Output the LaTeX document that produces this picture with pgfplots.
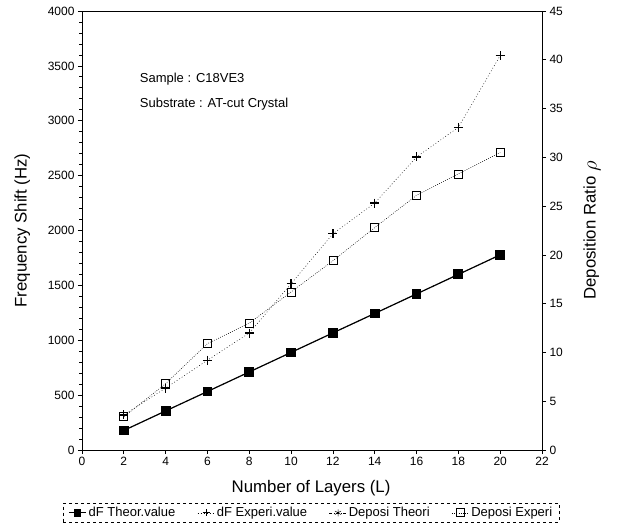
\documentclass[border=0pt]{standalone}
\usepackage{fontspec}
\setmainfont{Liberation Sans}
\usepackage{pgfplots}
\pgfplotsset{compat=1.18}

% frequency shift (left axis) and deposition ratio (right axis) vs. number of layers
\pgfplotstableread{
L  dFtheo dFexp
2  178    320
4  356    564
6  533    818
8  711    1066
10 889    1515
12 1067   1970
14 1244   2250
16 1422   2670
18 1600   2940
20 1778   3594
}\freqdata

\pgfplotstableread{
L  rhotheo rhoexp
2  2       3.4
4  4       6.8
6  6       10.9
8  8       13.0
10 10      16.2
12 12      19.4
14 14      22.8
16 16      26.1
18 18      28.3
20 20      30.5
}\ratiodata

\pgfplotsset{
  common/.style={
    scale only axis, width=460pt, height=439pt,
    xmin=0, xmax=22, xtick={0,2,...,22},
    tick align=outside,
    /pgf/number format/assume math mode=true,
    tick label style={font=\fontsize{12}{14}\selectfont},
    label style={font=\fontsize{16.8}{20}\selectfont},
    axis line style={line width=0.9pt},
    major tick length=4pt, minor tick length=2.5pt,
    every tick/.style={line width=0.7pt},
  }
}

\begin{document}
\begin{tikzpicture}
\begin{axis}[common,
  axis y line*=left, axis x line*=bottom,
  ymin=0, ymax=4000, ytick={0,500,...,4000},
  minor y tick num=4,
  /pgf/number format/1000 sep={},
  xlabel={Number of Layers (L)},
  ylabel={Frequency Shift (Hz)},
  ylabel style={at={(axis description cs:-0.130,0.5)}, anchor=center},
  xlabel style={at={(axis description cs:0.498,-0.087)}, anchor=center},
]
\addplot[black, line width=1.2pt, mark=square*, mark size=4.3pt] table[x=L, y=dFtheo] {\freqdata};
\addplot[black, line width=0.5pt, dash pattern=on 0.8pt off 2.2pt, mark=+, mark size=4.5pt,
  mark options={solid, line width=1.3pt}] table[x=L, y=dFexp] {\freqdata};
\node[anchor=west, font=\fontsize{13}{15}\selectfont] at (axis cs:2.6,3380) {Sample : C18VE3};
\node[anchor=west, font=\fontsize{13}{15}\selectfont] at (axis cs:2.6,3155) {Substrate : AT-cut Crystal};
\draw[line width=0.9pt] (rel axis cs:0,1) -- (rel axis cs:1,1);
\end{axis}

\begin{axis}[common,
  axis y line*=right, axis x line=none,
  ymin=0, ymax=45, ytick={0,5,...,45},
  ylabel={Deposition Ratio \raisebox{-1pt}{\fontsize{22}{22}\selectfont$\rho$}},
  ylabel style={at={(axis description cs:1.109,0.5)}, anchor=center},
  legend columns=4,
  legend style={at={(-0.041,-0.121)}, anchor=north west, draw=black, dashed,
    font=\fontsize{13}{14}\selectfont, inner xsep=5pt, inner ysep=2pt,
    /tikz/every even column/.append style={column sep=20pt}},
  legend cell align=left,
]
\addlegendimage{black, line width=1.2pt, mark=square*, mark size=3.3pt, solid}
\addlegendentry{dF Theor.value}
\addlegendimage{black, line width=0.5pt, dash pattern=on 0.8pt off 2.2pt, mark=+, mark size=3.5pt, mark options={solid, line width=1pt}}
\addlegendentry{dF Experi.value}
\addplot[black, line width=0.5pt, dash pattern=on 3pt off 1.5pt on 0.8pt off 1.5pt, mark=asterisk, mark size=3.5pt,
  mark options={solid}] table[x=L, y=rhotheo] {\ratiodata};
\addlegendentry{Deposi Theori}
\addplot[black, line width=0.5pt, dash pattern=on 0.8pt off 1.4pt, mark=square, mark size=4pt,
  mark options={solid, line width=0.7pt}] table[x=L, y=rhoexp] {\ratiodata};
\addlegendentry{Deposi Experi}
\end{axis}
\useasboundingbox (-82pt,-77pt) rectangle (536pt,450pt);
\end{tikzpicture}
\end{document}
